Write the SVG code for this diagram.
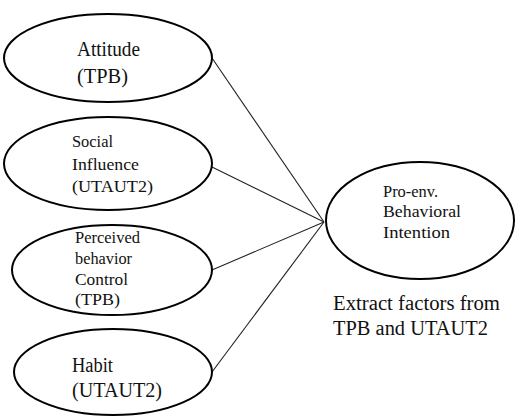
<svg xmlns="http://www.w3.org/2000/svg" width="515" height="416" viewBox="0 0 515 416">
<style>
.node ellipse{fill:#fff;stroke:#000;stroke-width:2}
.conn line{stroke:#222;stroke-width:1.1}
text{fill:#111;font-family:"Liberation Serif","Times New Roman",Times,Tinos,"Noto Serif","DejaVu Serif",FreeSerif,serif}
</style>
<rect width="515" height="416" fill="#fff"/>
<g id="connectors" class="conn">
<line x1="212" y1="58" x2="324" y2="222"/>
<line x1="212" y1="167" x2="324" y2="222"/>
<line x1="212" y1="270" x2="324" y2="222"/>
<line x1="212" y1="372" x2="324" y2="222"/>
</g>
<g id="attitude" class="node">
<ellipse cx="108" cy="58" rx="104" ry="44"/>
<text x="77" y="56" font-size="20" textLength="63" lengthAdjust="spacingAndGlyphs">Attitude</text>
<text x="77" y="83" font-size="20" textLength="51" lengthAdjust="spacingAndGlyphs">(TPB)</text>
</g>
<g id="social" class="node">
<ellipse cx="108" cy="163.5" rx="104" ry="46.5"/>
<text x="72" y="147" font-size="17.5" textLength="41" lengthAdjust="spacingAndGlyphs">Social</text>
<text x="72" y="170" font-size="17.5" textLength="67" lengthAdjust="spacingAndGlyphs">Influence</text>
<text x="72" y="192" font-size="17.5" textLength="81" lengthAdjust="spacingAndGlyphs">(UTAUT2)</text>
</g>
<g id="perceived" class="node">
<ellipse cx="112" cy="270" rx="100" ry="45"/>
<text x="75" y="243" font-size="16.5" textLength="65" lengthAdjust="spacingAndGlyphs">Perceived</text>
<text x="75" y="264" font-size="16.5" textLength="57" lengthAdjust="spacingAndGlyphs">behavior</text>
<text x="75" y="285" font-size="16.5" textLength="53" lengthAdjust="spacingAndGlyphs">Control</text>
<text x="75" y="305" font-size="16.5" textLength="45" lengthAdjust="spacingAndGlyphs">(TPB)</text>
</g>
<g id="habit" class="node">
<ellipse cx="113" cy="372" rx="99" ry="43"/>
<text x="72" y="372" font-size="20" textLength="41" lengthAdjust="spacingAndGlyphs">Habit</text>
<text x="72" y="397" font-size="20" textLength="90" lengthAdjust="spacingAndGlyphs">(UTAUT2)</text>
</g>
<g id="intention" class="node">
<ellipse cx="420" cy="220.5" rx="94" ry="58.5"/>
<text x="383" y="197" font-size="16.5" textLength="55" lengthAdjust="spacingAndGlyphs">Pro-env.</text>
<text x="383" y="217" font-size="16.5" textLength="78" lengthAdjust="spacingAndGlyphs">Behavioral</text>
<text x="383" y="238" font-size="16.5" textLength="67" lengthAdjust="spacingAndGlyphs">Intention</text>
</g>
<g id="caption">
<text x="333" y="310" font-size="20" textLength="167" lengthAdjust="spacingAndGlyphs">Extract factors from</text>
<text x="333" y="335" font-size="20" textLength="155" lengthAdjust="spacingAndGlyphs">TPB and UTAUT2</text>
</g>
</svg>
